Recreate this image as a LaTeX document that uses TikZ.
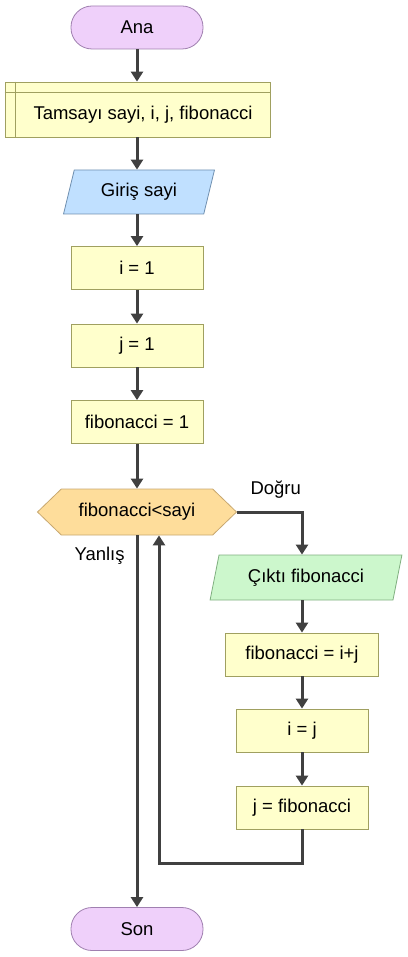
\documentclass[tikz,border=0pt]{standalone}
\usepackage{fontspec}
\setmainfont{Liberation Sans}
\usetikzlibrary{shapes.symbols, shapes.geometric, arrows.meta}
\definecolor{termfill}{RGB}{239,208,250}
\definecolor{termdraw}{RGB}{160,128,176}
\definecolor{procfill}{RGB}{255,255,204}
\definecolor{procdraw}{RGB}{160,160,96}
\definecolor{inpfill}{RGB}{192,224,255}
\definecolor{inpdraw}{RGB}{112,144,176}
\definecolor{outpfill}{RGB}{204,247,204}
\definecolor{outpdraw}{RGB}{128,176,128}
\definecolor{decfill}{RGB}{254,221,155}
\definecolor{decdraw}{RGB}{200,168,112}
\definecolor{flowgray}{RGB}{64,64,64}

\begin{document}
\begin{tikzpicture}[x=1pt, y=-1pt,
    base/.style={line width=0.8pt, inner sep=0pt, font=\fontsize{18.5}{22}\selectfont},
    term/.style={base, rectangle, rounded corners=21pt, fill=termfill, draw=termdraw, minimum width=132pt, minimum height=43pt},
    proc/.style={base, rectangle, fill=procfill, draw=procdraw, minimum width=132pt, minimum height=43pt},
    inp/.style={base, trapezium, trapezium left angle=70, trapezium right angle=110, trapezium stretches=true, fill=inpfill, draw=inpdraw, minimum width=152pt, minimum height=44pt},
    outp/.style={base, trapezium, trapezium left angle=71, trapezium right angle=109, trapezium stretches=true, fill=outpfill, draw=outpdraw, minimum width=192pt, minimum height=45pt},
    dec/.style={base, signal, signal to=west and east, signal pointer angle=88, fill=decfill, draw=decdraw, minimum width=199pt, minimum height=46pt},
    flow/.style={line width=3pt, draw=flowgray, -{Triangle[width=12pt,length=10pt]}},
    lbl/.style={font=\fontsize{18.5}{22}\selectfont}]
    \useasboundingbox (0,0) rectangle (407,957);

    % main column
    \node[term] (ana) at (137,27.5) {Ana};
    \node[proc, minimum width=265pt, minimum height=55pt] (decl) at (137.5,109.5) {};
    \draw[draw=procdraw, line width=0.8pt] ([xshift=11pt]decl.north west) -- ([xshift=11pt]decl.south west);
    \draw[draw=procdraw, line width=0.8pt] ([yshift=-11pt]decl.north west) -- ([yshift=-11pt]decl.north east);
    \node[lbl] (decltxt) at ([xshift=5.5pt, yshift=-5.5pt]decl.center) {Tamsayı sayi, i, j, fibonacci};
    \node[inp] (giris) at (139,192) {Giriş sayi};
    \node[proc] (ione) at (137,268) {i = 1};
    \node[proc] (jone) at (137,345.5) {j = 1};
    \node[proc] (fibone) at (137,422) {fibonacci = 1};
    \node[dec] (cond) at (137,512) {fibonacci<sayi};
    \node[term] (son) at (137,929) {Son};

    % loop body
    \node[outp] (cikti) at (306,577.5) {Çıktı fibonacci};
    \node[proc, minimum width=153pt] (fibsum) at (302,654.5) {fibonacci = i+j};
    \node[proc] (ij) at (302,730.5) {i = j};
    \node[proc] (jfib) at (302,807.5) {j = fibonacci};

    \node[lbl, anchor=west] (dogru) at (247,490) {Doğru};
    \node[lbl, anchor=west] (yanlis) at (71,556) {Yanlış};

    % connectors
    \draw[flow] (ana.south) -- (ana.south |- decl.north);
    \draw[flow] (ana.south |- decl.south) -- (ana.south |- giris.north);
    \draw[flow] (ana.south |- giris.south) -- (ione.north);
    \draw[flow] (ione) -- (jone);
    \draw[flow] (jone) -- (fibone);
    \draw[flow] (fibone) -- (fibone.south |- cond.north);
    \draw[flow] (cond.east) -| (fibsum.north |- cikti.north);
    \draw[flow] (fibsum.north |- cikti.south) -- (fibsum.north);
    \draw[flow] (fibsum) -- (ij);
    \draw[flow] (ij) -- (jfib);
    \draw[flow] (jfib.south) -- ++(0,34) -| ([xshift=22pt]cond.south);
    \draw[flow] (cond.south) -- (son.north);
\end{tikzpicture}
\end{document}
